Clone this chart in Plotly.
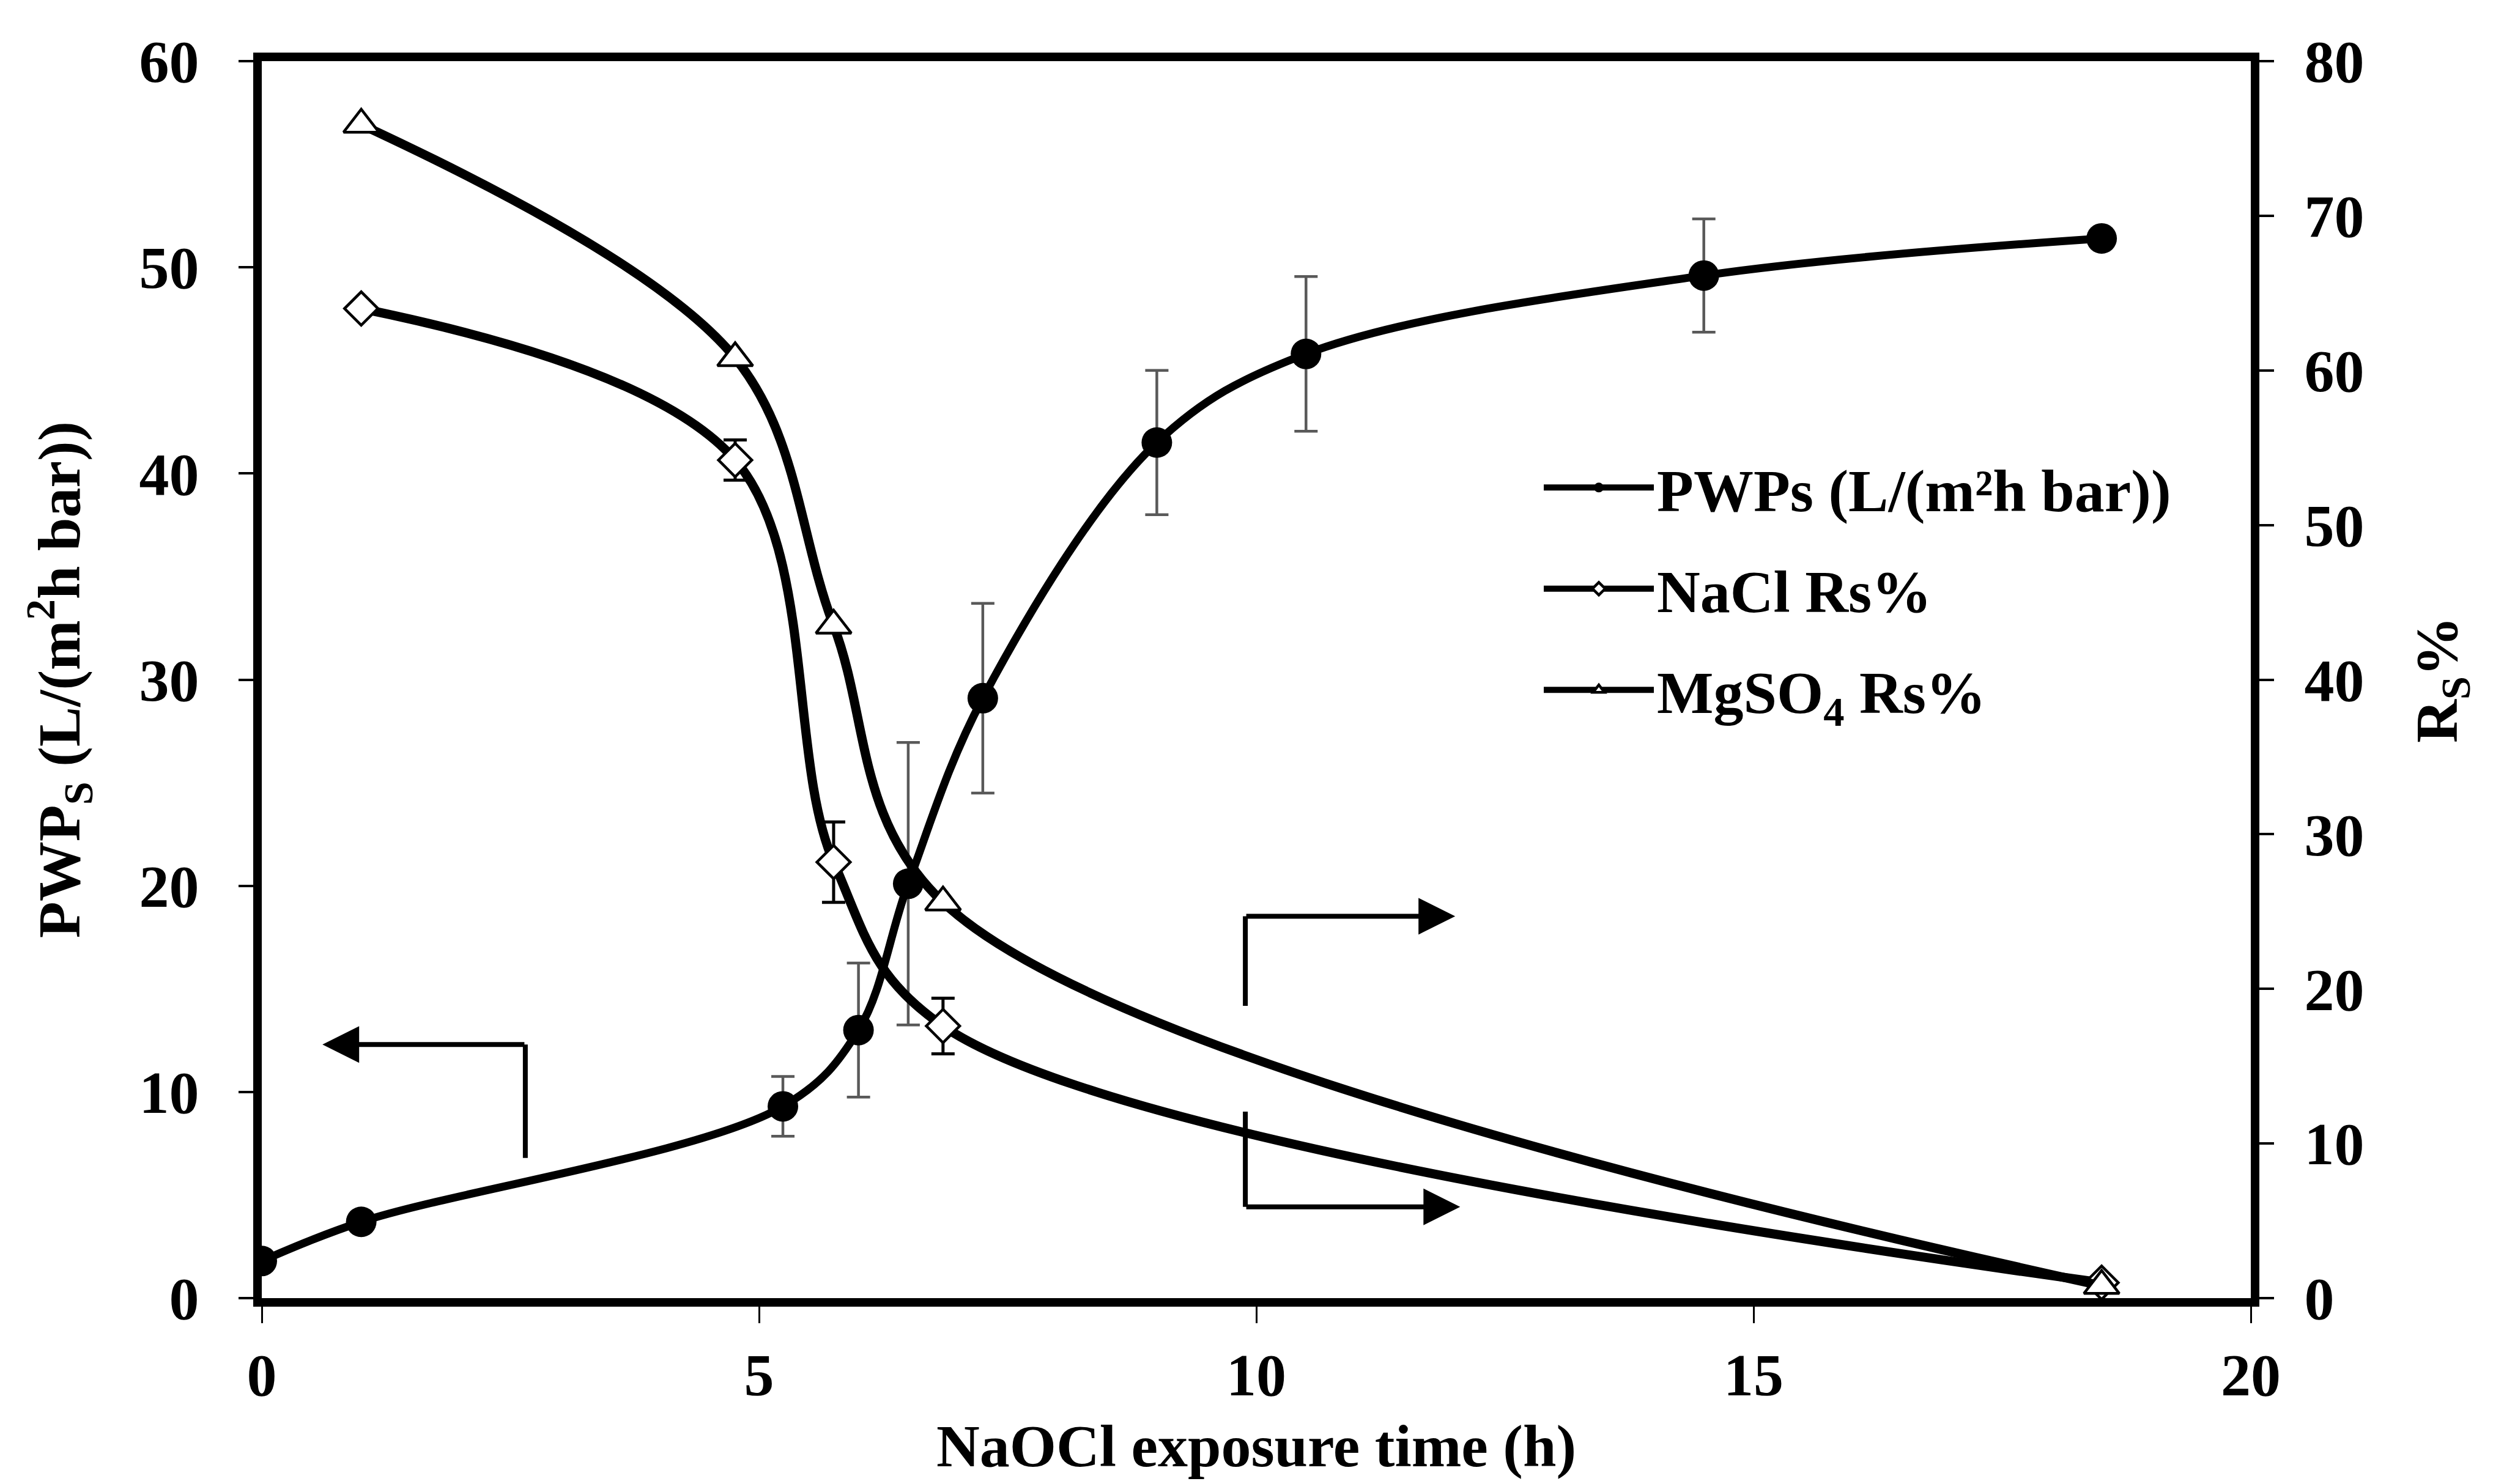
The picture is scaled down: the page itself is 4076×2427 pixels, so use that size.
import plotly.graph_objects as go

# ---- data ----
pwp_x = [0, 1, 5.24, 6.0, 6.5, 7.25, 9.0, 10.5, 14.5, 18.5]
pwp_y = [1.8, 3.7, 9.3, 13.0, 20.1, 29.1, 41.5, 45.8, 49.6, 51.4]
pwp_err = [0, 0, 1.45, 3.25, 6.85, 4.6, 3.5, 3.75, 2.75, 0]

salt_x = [1, 4.76, 5.75, 6.85, 18.5]
nacl_y = [64.0, 54.2, 28.2, 17.6, 1.0]
nacl_err = [0, 1.3, 2.6, 1.8, 0]
mgso4_y = [75.9, 60.8, 43.5, 25.6, 0.8]

x_ticks = [0, 5, 10, 15, 20]
y_left_ticks = [0, 10, 20, 30, 40, 50, 60]
y_right_ticks = [0, 10, 20, 30, 40, 50, 60, 70, 80]

FONT = "Liberation Serif"
fnt = dict(family=FONT, size=98, color="black", weight="bold")

fig = go.Figure()

fig.add_trace(go.Scatter(
    x=pwp_x, y=pwp_y, name="PWPs (L/(m²h bar))", legendgroup="a",
    mode="lines+markers",
    line=dict(color="black", width=13, shape="spline", smoothing=1),
    marker=dict(symbol="circle", size=50, color="black"),
    error_y=dict(type="data", array=pwp_err, visible=True, color="#595959",
                 thickness=4.5, width=19),
    yaxis="y",
))
fig.add_trace(go.Scatter(
    x=salt_x, y=nacl_y, name="NaCl Rs%", legendgroup="b",
    mode="lines+markers",
    line=dict(color="black", width=15, shape="spline", smoothing=1),
    marker=dict(symbol="diamond", size=42, color="white",
                line=dict(color="black", width=4.5)),
    error_y=dict(type="data", array=nacl_err, visible=True, color="black",
                 thickness=5, width=19),
    yaxis="y2",
))
fig.add_trace(go.Scatter(
    x=salt_x, y=mgso4_y, name="MgSO<sub>4</sub> Rs%", legendgroup="c",
    mode="lines+markers",
    line=dict(color="black", width=15, shape="spline", smoothing=1),
    marker=dict(symbol="triangle-up", size=50, color="white",
                line=dict(color="black", width=4.5)),
    yaxis="y2",
))

# indicator arrows (decorations)
arrow_left = dict(x0=2.65, y_low=6.8, y_high=12.3, tip=0.61)
arrow_r1 = dict(x0=9.89, y_low=18.9, y_high=24.7, tip=12.0)
arrow_r2 = dict(x0=9.89, y_low=5.9, y_high=12.06, tip=12.05)

shapes = [
    dict(type="line", xref="x", yref="y", x0=arrow_left["x0"], x1=arrow_left["x0"],
         y0=arrow_left["y_low"], y1=arrow_left["y_high"], line=dict(color="black", width=8)),
    dict(type="line", xref="x", yref="y2", x0=arrow_r1["x0"], x1=arrow_r1["x0"],
         y0=arrow_r1["y_low"], y1=arrow_r1["y_high"], line=dict(color="black", width=8)),
    dict(type="line", xref="x", yref="y2", x0=arrow_r2["x0"], x1=arrow_r2["x0"],
         y0=arrow_r2["y_low"], y1=arrow_r2["y_high"], line=dict(color="black", width=8)),
]
annotations = [
    dict(x=arrow_left["tip"], y=arrow_left["y_high"], ax=arrow_left["x0"], ay=arrow_left["y_high"],
         xref="x", yref="y", axref="x", ayref="y", text="", showarrow=True,
         arrowhead=2, arrowsize=1.5, arrowwidth=8, arrowcolor="black"),
    dict(x=arrow_r1["tip"], y=arrow_r1["y_high"], ax=arrow_r1["x0"], ay=arrow_r1["y_high"],
         xref="x", yref="y2", axref="x", ayref="y2", text="", showarrow=True,
         arrowhead=2, arrowsize=1.5, arrowwidth=8, arrowcolor="black"),
    dict(x=arrow_r2["tip"], y=arrow_r2["y_low"], ax=arrow_r2["x0"], ay=arrow_r2["y_low"],
         xref="x", yref="y2", axref="x", ayref="y2", text="", showarrow=True,
         arrowhead=2, arrowsize=1.5, arrowwidth=8, arrowcolor="black"),
]

fig.update_layout(
    width=4076, height=2427,
    paper_bgcolor="white", plot_bgcolor="white",
    margin=dict(l=420, r=404, t=92, b=312, autoexpand=False),
    font=fnt,
    showlegend=True,
    legend=dict(x=0.643, y=0.69, xanchor="left", yanchor="top",
                font=fnt, itemwidth=180, tracegroupgap=35,
                bgcolor="rgba(0,0,0,0)", traceorder="grouped"),
    xaxis=dict(range=[0, 20], tickvals=x_ticks, showgrid=False, zeroline=False,
               showline=True, linecolor="black", linewidth=14, mirror=True,
               ticks="outside", ticklen=27, tickwidth=3, tickcolor="black",
               tickfont=fnt, ticklabelstandoff=0,
               title=dict(text="NaOCl exposure time (h)", font=fnt, standoff=34)),
    yaxis=dict(range=[0, 60], tickvals=y_left_ticks, showgrid=False, zeroline=False,
               showline=True, linecolor="black", linewidth=14,
               ticks="outside", ticklen=24, tickwidth=4, tickcolor="black",
               tickfont=fnt, ticklabelstandoff=45,
               title=dict(text="PWP<sub>S</sub> (L/(m<sup>2</sup>h bar))", font=fnt, standoff=70)),
    yaxis2=dict(range=[0, 80], tickvals=y_right_ticks, overlaying="y", side="right",
                showgrid=False, zeroline=False,
                showline=True, linecolor="black", linewidth=14,
                ticks="outside", ticklen=24, tickwidth=4, tickcolor="black",
                tickfont=fnt, ticklabelstandoff=30,
                title=dict(text="R<sub>S</sub>%", font=fnt, standoff=90)),
    shapes=shapes,
    annotations=annotations,
)

fig.write_html("out.html")
